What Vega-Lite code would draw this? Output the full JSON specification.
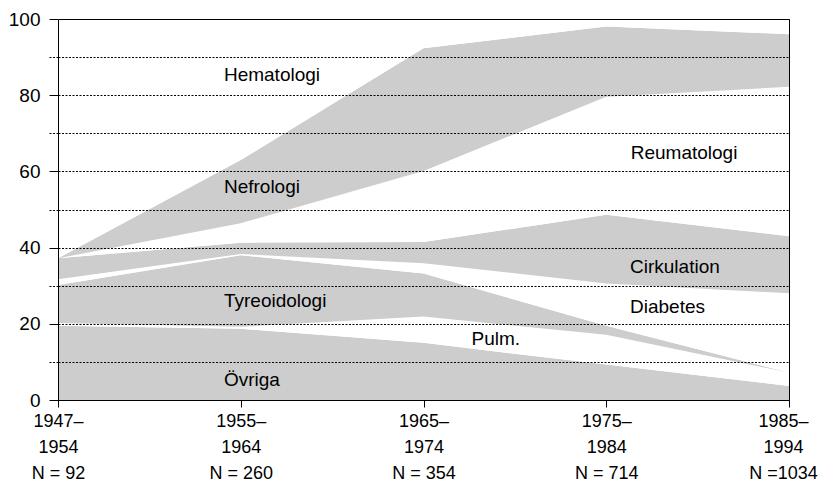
{
  "$schema": "https://vega.github.io/schema/vega-lite/v6.json",
  "width": 731,
  "height": 381,
  "autosize": {"type": "none"},
  "padding": {"left": 58, "top": 19, "right": 29, "bottom": 84},
  "background": "white",
  "config": {"view": {"stroke": "black", "strokeWidth": 1}, "font": "Liberation Sans"},
  "layer": [
    {
      "data": {"values": [
        {"i": 0, "cat": "Övriga", "k": 1, "share": 19.5},
        {"i": 0, "cat": "Pulm.", "k": 2, "share": 0.7},
        {"i": 0, "cat": "Tyreoidologi", "k": 3, "share": 10.0},
        {"i": 0, "cat": "Diabetes", "k": 4, "share": 1.5},
        {"i": 0, "cat": "Cirkulation", "k": 5, "share": 5.5},
        {"i": 0, "cat": "Reumatologi", "k": 6, "share": 0},
        {"i": 0, "cat": "Nefrologi", "k": 7, "share": 0},
        {"i": 0, "cat": "Hematologi", "k": 8, "share": 62.8},
        {"i": 1, "cat": "Övriga", "k": 1, "share": 18.7},
        {"i": 1, "cat": "Pulm.", "k": 2, "share": 0.5},
        {"i": 1, "cat": "Tyreoidologi", "k": 3, "share": 18.8},
        {"i": 1, "cat": "Diabetes", "k": 4, "share": 0.3},
        {"i": 1, "cat": "Cirkulation", "k": 5, "share": 3.0},
        {"i": 1, "cat": "Reumatologi", "k": 6, "share": 5.1},
        {"i": 1, "cat": "Nefrologi", "k": 7, "share": 16.6},
        {"i": 1, "cat": "Hematologi", "k": 8, "share": 37.0},
        {"i": 2, "cat": "Övriga", "k": 1, "share": 15.0},
        {"i": 2, "cat": "Pulm.", "k": 2, "share": 6.9},
        {"i": 2, "cat": "Tyreoidologi", "k": 3, "share": 11.3},
        {"i": 2, "cat": "Diabetes", "k": 4, "share": 2.7},
        {"i": 2, "cat": "Cirkulation", "k": 5, "share": 5.6},
        {"i": 2, "cat": "Reumatologi", "k": 6, "share": 18.6},
        {"i": 2, "cat": "Nefrologi", "k": 7, "share": 32.2},
        {"i": 2, "cat": "Hematologi", "k": 8, "share": 7.7},
        {"i": 3, "cat": "Övriga", "k": 1, "share": 9.3},
        {"i": 3, "cat": "Pulm.", "k": 2, "share": 7.8},
        {"i": 3, "cat": "Tyreoidologi", "k": 3, "share": 2.4},
        {"i": 3, "cat": "Diabetes", "k": 4, "share": 11.1},
        {"i": 3, "cat": "Cirkulation", "k": 5, "share": 18.0},
        {"i": 3, "cat": "Reumatologi", "k": 6, "share": 31.0},
        {"i": 3, "cat": "Nefrologi", "k": 7, "share": 18.4},
        {"i": 3, "cat": "Hematologi", "k": 8, "share": 2.0},
        {"i": 4, "cat": "Övriga", "k": 1, "share": 3.7},
        {"i": 4, "cat": "Pulm.", "k": 2, "share": 3.5},
        {"i": 4, "cat": "Tyreoidologi", "k": 3, "share": 0},
        {"i": 4, "cat": "Diabetes", "k": 4, "share": 20.8},
        {"i": 4, "cat": "Cirkulation", "k": 5, "share": 15.0},
        {"i": 4, "cat": "Reumatologi", "k": 6, "share": 39.2},
        {"i": 4, "cat": "Nefrologi", "k": 7, "share": 13.8},
        {"i": 4, "cat": "Hematologi", "k": 8, "share": 4.0}
      ]},
      "mark": {"type": "area", "interpolate": "linear"},
      "encoding": {
        "x": {
          "field": "i", "type": "quantitative",
          "scale": {"domain": [0, 4], "nice": false, "zero": false},
          "axis": {
            "values": [0, 1, 2, 3, 4],
            "labelExpr": "[['1947–','1954','N = 92'],['1955–','1964','N = 260'],['1965–','1974','N = 354'],['1975–','1984','N = 714'],['1985–','1994','N =1034']][datum.value]",
            "grid": false, "title": null, "tickSize": 7, "tickColor": "black", "domainColor": "black",
            "labelFontSize": 18, "labelColor": "black", "labelLineHeight": 26, "labelPadding": 5,
            "labelOffset": {"condition": {"test": "datum.value === 4", "value": -6}, "value": 0},
            "labelAngle": 0, "labelFlush": false, "labelOverlap": false, "zindex": 1
          }
        },
        "y": {
          "field": "share", "type": "quantitative", "stack": "zero",
          "scale": {"domain": [0, 100], "nice": false},
          "axis": {
            "values": [0, 10, 20, 30, 40, 50, 60, 70, 80, 90, 100],
            "labelExpr": "datum.value % 20 === 0 ? datum.label : ''",
            "grid": true, "gridColor": "black", "gridWidth": 1, "gridOpacity": 1,
            "gridDash": {"condition": {"test": "datum.value === 100", "value": []}, "value": [2, 1.5]},
            "tickSize": 9, "tickColor": "black",
            "tickDash": {"condition": {"test": "datum.value % 20 === 0", "value": []}, "value": [2, 1.5]},
            "domainColor": "black", "labelPadding": 9, "labelFontSize": 19, "labelColor": "black",
            "title": null, "zindex": 1
          }
        },
        "color": {
          "field": "cat", "type": "nominal",
          "scale": {
            "domain": ["Övriga", "Pulm.", "Tyreoidologi", "Diabetes", "Cirkulation", "Reumatologi", "Nefrologi", "Hematologi"],
            "range": ["#cdcdcd", "#ffffff", "#cdcdcd", "#ffffff", "#cdcdcd", "#ffffff", "#cdcdcd", "#ffffff"]
          },
          "legend": null
        },
        "order": {"field": "k", "type": "quantitative"}
      }
    },
    {
      "data": {"values": [
        {"label": "Hematologi", "xi": 0.908, "yv": 85.3},
        {"label": "Nefrologi", "xi": 0.908, "yv": 56.0},
        {"label": "Tyreoidologi", "xi": 0.908, "yv": 26.1},
        {"label": "Övriga", "xi": 0.908, "yv": 5.3},
        {"label": "Pulm.", "xi": 2.263, "yv": 16.1},
        {"label": "Reumatologi", "xi": 3.134, "yv": 64.7},
        {"label": "Cirkulation", "xi": 3.13, "yv": 35.0},
        {"label": "Diabetes", "xi": 3.13, "yv": 24.5}
      ]},
      "mark": {"type": "text", "align": "left", "baseline": "middle", "fontSize": 19, "color": "black"},
      "encoding": {
        "x": {
          "field": "xi", "type": "quantitative",
          "scale": {"domain": [0, 4], "nice": false, "zero": false},
          "axis": {
            "values": [0, 1, 2, 3, 4],
            "labelExpr": "[['1947–','1954','N = 92'],['1955–','1964','N = 260'],['1965–','1974','N = 354'],['1975–','1984','N = 714'],['1985–','1994','N =1034']][datum.value]",
            "grid": false, "title": null, "tickSize": 7, "tickColor": "black", "domainColor": "black",
            "labelFontSize": 18, "labelColor": "black", "labelLineHeight": 26, "labelPadding": 5,
            "labelOffset": {"condition": {"test": "datum.value === 4", "value": -6}, "value": 0},
            "labelAngle": 0, "labelFlush": false, "labelOverlap": false, "zindex": 1
          }
        },
        "y": {
          "field": "yv", "type": "quantitative",
          "scale": {"domain": [0, 100], "nice": false},
          "axis": {
            "values": [0, 10, 20, 30, 40, 50, 60, 70, 80, 90, 100],
            "labelExpr": "datum.value % 20 === 0 ? datum.label : ''",
            "grid": true, "gridColor": "black", "gridWidth": 1, "gridOpacity": 1,
            "gridDash": {"condition": {"test": "datum.value === 100", "value": []}, "value": [2, 1.5]},
            "tickSize": 9, "tickColor": "black",
            "tickDash": {"condition": {"test": "datum.value % 20 === 0", "value": []}, "value": [2, 1.5]},
            "domainColor": "black", "labelPadding": 9, "labelFontSize": 19, "labelColor": "black",
            "title": null, "zindex": 1
          }
        },
        "text": {"field": "label"}
      }
    }
  ]
}
